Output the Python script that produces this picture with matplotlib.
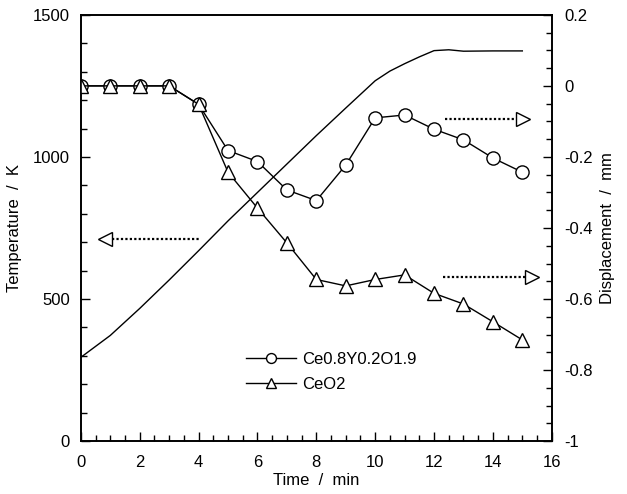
import matplotlib
matplotlib.use("Agg")
import matplotlib.pyplot as plt
from matplotlib.ticker import MultipleLocator, FuncFormatter

plt.rcParams['font.family'] = ['Liberation Sans', 'DejaVu Sans']
plt.rcParams['axes.unicode_minus'] = False

# Temperature profile (left axis)
temp_time = [0, 1, 2, 3, 4, 5, 6, 7, 8, 9, 10, 10.5, 11, 11.5, 12, 12.5, 13, 14, 15]
temp_K = [295, 372, 467, 567, 670, 775, 875, 975, 1075, 1172, 1268, 1302, 1328, 1352, 1374, 1377, 1372, 1373, 1373]

# Displacement series (right axis)
disp_time = [0, 1, 2, 3, 4, 5, 6, 7, 8, 9, 10, 11, 12, 13, 14, 15]
disp_ceY = [0, 0, 0, 0, -0.052, -0.182, -0.213, -0.293, -0.323, -0.223, -0.090, -0.082, -0.122, -0.152, -0.203, -0.243]
disp_ceo2 = [0, 0, 0, 0, -0.052, -0.243, -0.344, -0.442, -0.545, -0.563, -0.545, -0.532, -0.584, -0.614, -0.664, -0.715]

labels = ['Ce0.8Y0.2O1.9', 'CeO2']

FS = 12

fig = plt.figure(figsize=(6.27, 4.94), dpi=100)
ax = fig.add_axes([0.129, 0.107, 0.751, 0.863])
ax2 = ax.twinx()

ax.plot(temp_time, temp_K, color='black', lw=1.0)

ms = 9.5
l1, = ax2.plot(disp_time, disp_ceY, color='black', lw=1.0, marker='o', ms=ms,
               mfc='white', mec='black', mew=1.0)
l2, = ax2.plot(disp_time, disp_ceo2, color='black', lw=1.0, marker='^', ms=ms,
               mfc='white', mec='black', mew=1.0)

# Arrows (dotted line + open head), in left-axis data coordinates
def arrow(ax, x0, x1, y, head_x, direction):
    ax.plot([x0, x1], [y, y], color='black', lw=1.6, ls=(0, (1, 1)), zorder=3)
    ax.plot([head_x], [y], marker=direction, ms=10, mfc='white', mec='black', mew=1.0,
            ls='none', zorder=4)

arrow(ax, 1.05, 4.04, 711, 0.82, '<')
arrow(ax, 12.36, 14.81, 1134, 15.03, '>')
arrow(ax, 12.3, 15.12, 579, 15.32, '>')

ax.set_xlim(0, 16)
ax.set_ylim(0, 1500)
ax2.set_ylim(-1, 0.2)

ax.xaxis.set_major_locator(MultipleLocator(2))
ax.xaxis.set_minor_locator(MultipleLocator(0.5))
ax.yaxis.set_major_locator(MultipleLocator(500))
ax.yaxis.set_minor_locator(MultipleLocator(100))
ax2.yaxis.set_major_locator(MultipleLocator(0.2))
ax2.yaxis.set_minor_locator(MultipleLocator(0.05))
ax2.yaxis.set_major_formatter(FuncFormatter(lambda v, p: ('%g' % round(v, 2))))

for a in (ax, ax2):
    a.tick_params(which='major', direction='in', length=6.5, width=1.0, labelsize=FS)
    a.tick_params(which='minor', direction='in', length=4, width=1.0)
    for s in a.spines.values():
        s.set_linewidth(1.2)
ax.tick_params(axis='x', which='both', top=False, pad=10)
ax.tick_params(axis='y', pad=8)
ax2.tick_params(axis='y', pad=9)

ax.set_xlabel('Time  /  min', fontsize=FS, labelpad=2)
ax.set_ylabel('Temperature  /  K', fontsize=FS, labelpad=8)
ax2.set_ylabel('Displacement  /  mm', fontsize=FS, labelpad=5)

ax2.legend([l1, l2], labels, loc='center left', bbox_to_anchor=(0.325, 0.162),
           frameon=False, fontsize=FS, handlelength=3.0, handletextpad=0.4,
           labelspacing=0.6, borderpad=0.2, markerscale=0.75)

fig.savefig('out.png', dpi=100)
